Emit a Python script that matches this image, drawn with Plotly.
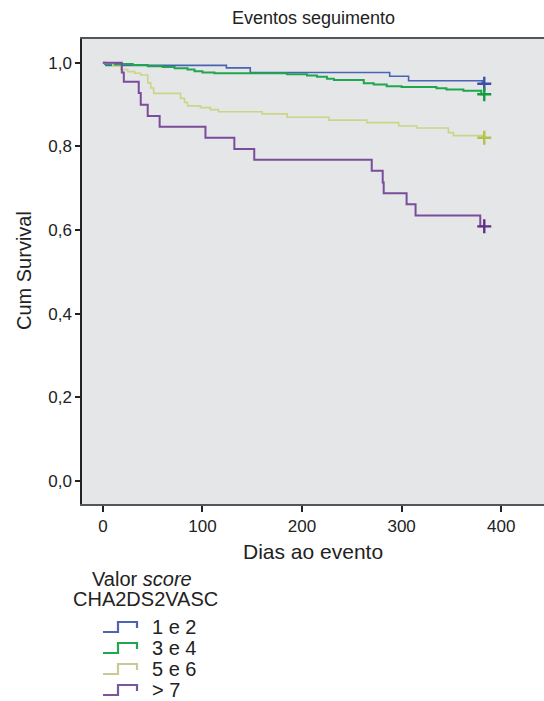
import plotly.graph_objects as go

# ---- data ----
group_names = ["1 e 2", "3 e 4", "5 e 6", "> 7"]

t_12 = [0, 3, 124, 148, 288, 307, 381, 383]
s_12 = [1.0, 0.994, 0.988, 0.977, 0.968, 0.957, 0.950, 0.950]

t_34 = [0, 2, 30, 45, 60, 72, 85, 92, 100, 112, 185, 205, 215, 225, 232, 262, 272, 285, 300, 335, 345, 362, 380, 383]
s_34 = [1.0, 0.997, 0.995, 0.992, 0.990, 0.987, 0.984, 0.980, 0.977, 0.975, 0.973, 0.970, 0.967, 0.962, 0.959,
        0.951, 0.948, 0.944, 0.942, 0.939, 0.936, 0.933, 0.925, 0.925]

t_56 = [0, 10, 18, 25, 32, 38, 45, 48, 51, 78, 82, 85, 98, 108, 116, 160, 185, 227, 265, 297, 315, 347, 352, 381, 383]
s_56 = [1.0, 0.992, 0.984, 0.979, 0.975, 0.971, 0.952, 0.940, 0.927, 0.915, 0.905, 0.897, 0.893, 0.888, 0.883,
        0.878, 0.870, 0.863, 0.857, 0.849, 0.844, 0.833, 0.826, 0.821, 0.821]

t_7 = [0, 19, 21, 36, 38, 45, 57, 103, 132, 152, 270, 281, 282, 305, 314, 379, 383]
s_7 = [1.0, 0.977, 0.955, 0.928, 0.900, 0.873, 0.847, 0.821, 0.794, 0.768, 0.742, 0.714, 0.688, 0.662, 0.635,
       0.609, 0.609]

censor_t = [383, 383, 383, 383]

x_ticks = [0, 100, 200, 300, 400]
y_ticks = [0.0, 0.2, 0.4, 0.6, 0.8, 1.0]

series_t = [t_12, t_34, t_56, t_7]
series_s = [s_12, s_34, s_56, s_7]
line_colors = ["#4a63b2", "#1fa64e", "#ccd486", "#7a4c9c"]
mark_colors = ["#3a50a8", "#159a40", "#b4c24a", "#5e2f86"]
icon_colors = ["#5062b0", "#1fa64e", "#c9c996", "#7a569e"]
line_widths = [1.6, 2.0, 1.6, 2.0]

W, H = 544, 701
L, R, T, B = 82, 544, 39, 504


def px(x):
    return (x - L) / (R - L)


def py(y):
    return (B - y) / (B - T)


fig = go.Figure()
for i in range(4):
    fig.add_trace(go.Scatter(x=series_t[i], y=series_s[i], mode="lines",
                             line=dict(color=line_colors[i], width=line_widths[i], shape="hv"),
                             name=group_names[i], showlegend=False, hoverinfo="skip"))
for i in range(4):
    fig.add_trace(go.Scatter(x=[censor_t[i]], y=[series_s[i][-1]], mode="markers",
                             marker=dict(symbol="cross-thin", size=10,
                                         line=dict(color=mark_colors[i], width=2.4)),
                             showlegend=False, hoverinfo="skip"))

font = "Liberation Sans, Arial, sans-serif"
annotations = [
    dict(text="Eventos seguimento", x=px(313), y=py(18), xref="paper", yref="paper",
         showarrow=False, font=dict(size=18, color="#222"), xanchor="center", yanchor="middle"),
    dict(text="Dias ao evento", x=px(313), y=py(551), xref="paper", yref="paper",
         showarrow=False, font=dict(size=21, color="#222"), xanchor="center", yanchor="middle"),
    dict(text="Cum Survival", x=px(24), y=py(271), xref="paper", yref="paper", textangle=-90,
         showarrow=False, font=dict(size=20, color="#222"), xanchor="center", yanchor="middle"),
    dict(text="Valor <i>score</i>", x=px(142), y=py(579), xref="paper", yref="paper",
         showarrow=False, font=dict(size=20, color="#222"), xanchor="center", yanchor="middle"),
    dict(text="CHA2DS2VASC", x=px(145), y=py(599), xref="paper", yref="paper",
         showarrow=False, font=dict(size=20, color="#222"), xanchor="center", yanchor="middle"),
]
shapes = []
for i in range(4):
    yc = 627 + i * 21
    x0, xm, x1 = 103, 118, 137
    yb, yt, yr = yc + 5, yc - 5, yc + 1
    path = (f"M {px(x0)},{py(yb)} L {px(xm)},{py(yb)} L {px(xm)},{py(yt)} "
            f"L {px(x1)},{py(yt)} L {px(x1)},{py(yr)}")
    shapes.append(dict(type="path", path=path, xref="paper", yref="paper",
                       line=dict(color=icon_colors[i], width=2.2)))
    annotations.append(dict(text=group_names[i], x=px(150), y=py(yc), xref="paper", yref="paper",
                            showarrow=False, font=dict(size=20, color="#222"),
                            xanchor="left", yanchor="middle"))

fig.update_layout(
    width=W, height=H,
    margin=dict(l=L, r=W - R, t=T, b=H - B),
    paper_bgcolor="white", plot_bgcolor="#e5e6e8",
    font=dict(family=font, size=17, color="#222"),
    separators=",.",
    showlegend=False,
    annotations=annotations, shapes=shapes,
    xaxis=dict(range=[-21, 443], tickvals=x_ticks, ticks="outside", ticklen=6, tickwidth=1.5,
               tickcolor="#222", showline=True, linecolor="#555", linewidth=1.5, mirror=True,
               showgrid=False, zeroline=False, tickfont=dict(size=17)),
    yaxis=dict(range=[-0.055, 1.057], tickvals=y_ticks, tickformat=".1f", ticks="outside", ticklen=5,
               tickwidth=1.5, tickcolor="#222", showline=True, linecolor="#222", linewidth=1.5,
               showgrid=False, zeroline=False, tickfont=dict(size=17)),
)

fig.write_html("out.html", config={"displayModeBar": False},
               post_script="document.body.style.margin='0';document.body.style.overflow='hidden';")
